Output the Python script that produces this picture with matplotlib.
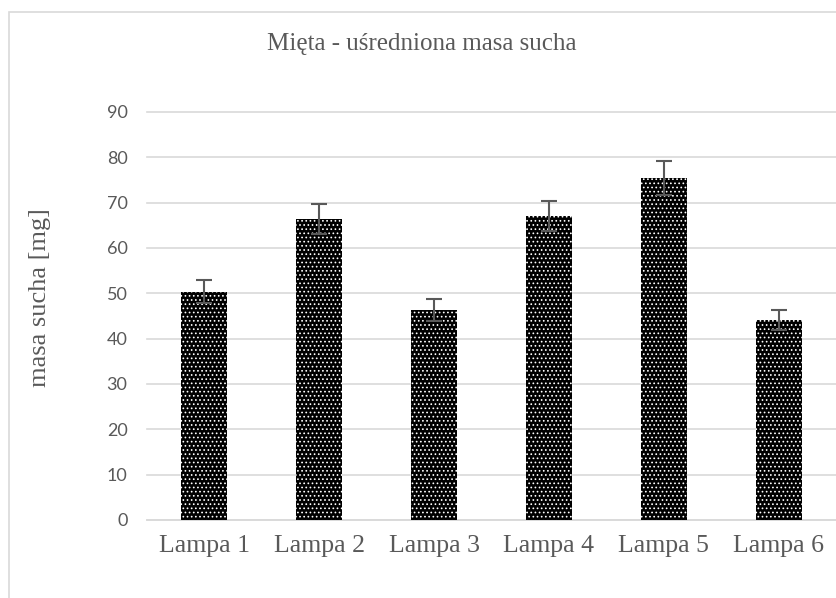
import matplotlib
matplotlib.use('Agg')
import matplotlib.pyplot as plt
from matplotlib.patches import Rectangle

# dane: średnia masa sucha mięty dla każdej lampy
lampy = ['Lampa 1', 'Lampa 2', 'Lampa 3', 'Lampa 4', 'Lampa 5', 'Lampa 6']
masa = [50.4, 66.4, 46.4, 67.0, 75.4, 44.2]
blad = [2.6, 3.4, 2.4, 3.3, 3.7, 2.2]
y_ticks = [0, 10, 20, 30, 40, 50, 60, 70, 80, 90]

SZARY = '#595959'
SIATKA = '#d9d9d9'
SERIF = 'Liberation Serif'

plt.rcParams['hatch.linewidth'] = 0.7

fig = plt.figure(figsize=(8.36, 5.98), dpi=100)
ax = fig.add_axes([147 / 836, 78 / 598, 689 / 836, 408 / 598])

x = list(range(len(lampy)))
ax.bar(x, masa, width=0.4, color='black', edgecolor='white', linewidth=0,
       hatch='....', zorder=3)
ax.errorbar(x, masa, yerr=blad, fmt='none', ecolor=SZARY, elinewidth=1.5,
            capsize=6, capthick=1.5, zorder=4)

ax.set_xlim(-0.5, len(lampy) - 0.5)
ax.set_ylim(0, 90)
ax.set_yticks(y_ticks)
ax.set_xticks(x)
ax.set_xticklabels(lampy, family=SERIF, fontsize=18.5, color=SZARY)
ax.tick_params(axis='y', length=0, pad=14, labelsize=13, labelcolor=SZARY)
ax.tick_params(axis='x', length=0, pad=11)
for lab in ax.get_yticklabels():
    lab.set_family('Lato')

ax.grid(axis='y', color=SIATKA, linewidth=1.2, zorder=0)
for g in ax.get_ygridlines():
    g.set_clip_on(False)
for s in ['top', 'right', 'left']:
    ax.spines[s].set_visible(False)
ax.spines['bottom'].set_color(SIATKA)
ax.spines['bottom'].set_linewidth(1.2)

fig.text(422 / 836, 1 - 44 / 598, 'Mięta - uśredniona masa sucha',
         family=SERIF, fontsize=18, color=SZARY, ha='center', va='center')
fig.text(40 / 836, 1 - 298 / 598, 'masa sucha [mg]', family=SERIF,
         fontsize=19, color=SZARY, rotation=90, ha='center', va='center')

# ramka wykresu
fig.patches.append(Rectangle((9 / 836, -0.1), 1.2, 0.1 + 1 - 12 / 598,
                             transform=fig.transFigure, fill=False,
                             edgecolor=SIATKA, linewidth=1.2))

fig.savefig('out.png', dpi=100)
